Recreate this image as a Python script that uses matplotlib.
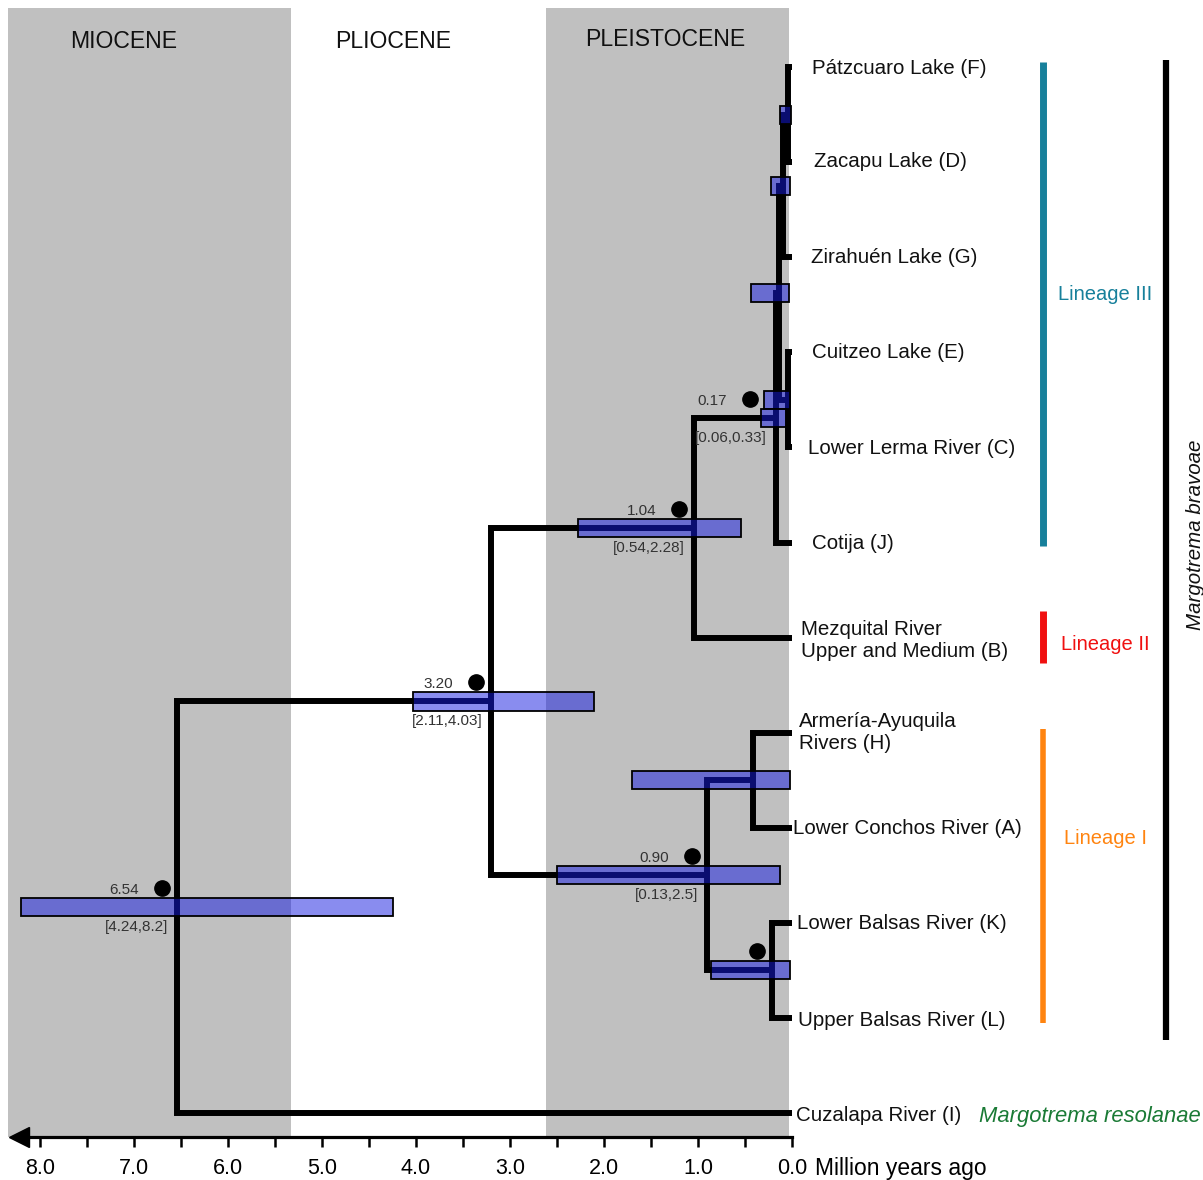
import matplotlib
matplotlib.use("Agg")
import matplotlib.pyplot as plt
from matplotlib.patches import Rectangle
from matplotlib.transforms import blended_transform_factory, offset_copy

plt.rcParams['font.family'] = ['Liberation Sans', 'DejaVu Sans']

# ---------------- data ----------------
tip_names = ["Pátzcuaro Lake (F)", "Zacapu Lake (D)", "Zirahuén Lake (G)", "Cuitzeo Lake (E)",
             "Lower Lerma River (C)", "Cotija (J)", "Mezquital River\nUpper and Medium (B)",
             "Armería-Ayuquila\nRivers (H)", "Lower Conchos River (A)", "Lower Balsas River (K)",
             "Upper Balsas River (L)", "Cuzalapa River (I)"]

node_names = ["FD", "FDG", "EC", "FDGEC", "n017", "n104", "HA", "KL", "n090", "n320", "root"]
node_children = [(0, 1), ("FD", 2), (3, 4), ("FDG", "EC"), ("FDGEC", 5), ("n017", 6),
                 (7, 8), (9, 10), ("HA", "KL"), ("n104", "n090"), ("n320", 11)]
node_ages = [0.04, 0.10, 0.04, 0.14, 0.17, 1.04, 0.41, 0.21, 0.90, 3.20, 6.54]
hpd_low = [0.01, 0.02, 0.02, 0.03, 0.06, 0.54, 0.02, 0.02, 0.13, 2.11, 4.24]
hpd_high = [0.13, 0.22, 0.30, 0.44, 0.33, 2.28, 1.70, 0.86, 2.5, 4.03, 8.2]
node_support = [False, False, False, False, True, True, False, True, True, True, True]
node_labelled = [False, False, False, False, True, True, False, False, True, True, True]

epoch_names = ["MIOCENE", "PLIOCENE", "PLEISTOCENE"]
epoch_start = [8.34, 5.33, 2.62]
epoch_end = [5.33, 2.62, 0.03]
epoch_shaded = [True, False, True]

lineage_names = ["Lineage III", "Lineage II", "Lineage I"]
lineage_colors = ["#17809b", "#f01010", "#ff8410"]

tick_values = [0, 1, 2, 3, 4, 5, 6, 7, 8]
minor_values = [0.5, 1.5, 2.5, 3.5, 4.5, 5.5, 6.5, 7.5]

# ---------------- layout ----------------
W, H = 1203, 1180
PX0, SCALE = 792.0, 94.0        # pixel of t=0, pixels per My
Y0, DY = 67.0, 95.1             # pixel of first tip, pixel spacing
AX_TOP, AX_BOT = 8.0, 1137.0


def t_of(px):
    return (PX0 - px) / SCALE


def i_of(py):
    return (py - Y0) / DY


fig = plt.figure(figsize=(W / 100, H / 100), dpi=100)
ax = fig.add_axes([0, (H - AX_BOT) / H, 1, (AX_BOT - AX_TOP) / H])
ax.set_xlim(t_of(0), t_of(W))
ax.set_ylim(i_of(AX_BOT), i_of(AX_TOP))

for s in ["top", "left", "right"]:
    ax.spines[s].set_visible(False)
ax.spines["bottom"].set_linewidth(2.3)
ax.spines["bottom"].set_bounds(0, 8.25)
ax.set_yticks([])
ax.set_xticks(tick_values)
ax.set_xticklabels([f"{v:.1f}" for v in tick_values])
ax.set_xticks(minor_values, minor=True)
ax.tick_params(axis="x", which="both", direction="out", length=7, width=1.8, pad=8)
for lab in ax.get_xticklabels():
    lab.set_fontsize(15.5)

bl = blended_transform_factory(ax.transData, ax.transAxes)
ax.plot([t_of(19)], [0], marker="<", ms=15, color="k", transform=bl, clip_on=False, zorder=5)
ax.annotate("Million years ago", (t_of(815), 0), xycoords=bl, xytext=(0, -31),
            textcoords="offset pixels", ha="left", va="center", fontsize=16.5,
            annotation_clip=False)

# epochs
epoch_label_x = [t_of(124), t_of(393), t_of(665)]
epoch_label_y = [i_of(42), i_of(42), i_of(40)]
for name, a, b, sh, lx, ly in zip(epoch_names, epoch_start, epoch_end, epoch_shaded,
                                   epoch_label_x, epoch_label_y):
    if sh:
        ax.axvspan(b, a, color="#c0c0c0", zorder=0, lw=0)
    ax.text(lx, ly, name, ha="center", va="center", fontsize=16.6, color="#111111")

# ---------------- tree ----------------
pos = {}
for i, n in enumerate(tip_names):
    pos[i] = (0.0, float(i))
for name, ch, age in zip(node_names, node_children, node_ages):
    ys = [pos[c][1] for c in ch]
    pos[name] = (age, sum(ys) / len(ys))

LW = 4.3
for name, ch, age in zip(node_names, node_children, node_ages):
    (a1, y1), (a2, y2) = pos[ch[0]], pos[ch[1]]
    ax.plot([a1, age, age, a2], [y1, y1, y2, y2], color="k", lw=LW,
            solid_joinstyle="miter", solid_capstyle="butt", zorder=2)

# HPD bars
BAR_H = 0.19
for name, lo, hi in zip(node_names, hpd_low, hpd_high):
    y = pos[name][1]
    ax.add_patch(Rectangle((lo, y - BAR_H / 2), hi - lo, BAR_H,
                           facecolor=(0.08, 0.10, 0.88, 0.5), edgecolor="k", lw=1.3, zorder=3))

# support dots and labels
label_shift = {"n017": -11}
for name, sup, labd, lo, hi in zip(node_names, node_support, node_labelled, hpd_low, hpd_high):
    age, y = pos[name]
    sh = label_shift.get(name, 0)
    if sup:
        tr = offset_copy(ax.transData, fig=fig, x=-15 + sh, y=19, units="dots")
        ax.plot([age], [y], "o", ms=11, color="k", transform=tr, zorder=4)
    if labd:
        ax.annotate(f"{age:.2f}", (age, y), xytext=(-38 + sh, 17), textcoords="offset pixels",
                    ha="right", va="center", fontsize=11, color="#333333", zorder=4)
        ax.annotate(f"[{lo:g},{hi:g}]", (age, y), xytext=(-9, -20), textcoords="offset pixels",
                    ha="right", va="center", fontsize=11, color="#333333", zorder=4)

# tip labels
tip_dx = [20, 22, 19, 20, 16, 20, 9, 7, 1, 5, 6, 4]
tip_dy = [-1, 1, 0, 0, -1, -1, -3, 0, -1, -1, -2, -2]
for i, (name, dx, dy) in enumerate(zip(tip_names, tip_dx, tip_dy)):
    ax.annotate(name, (0, i), xytext=(dx, dy), textcoords="offset pixels",
                ha="left", va="center", fontsize=14.8, linespacing=1.22, color="#111111")

# lineage brackets
lin_x = t_of(1043)
lin_spans = [(i_of(62), i_of(546)), (i_of(611), i_of(663)), (i_of(729), i_of(1023))]
lin_lw = [5.0, 5.0, 4.0]
lin_label_x = t_of(1105)
lin_label_y = [i_of(295), i_of(644), i_of(839)]
for name, col, (ya, yb), lw, ly in zip(lineage_names, lineage_colors, lin_spans, lin_lw, lin_label_y):
    ax.plot([lin_x, lin_x], [ya, yb], color=col, lw=lw, solid_capstyle="butt")
    ax.text(lin_label_x, ly, name, color=col, ha="center", va="center", fontsize=14.5)

sp_x = t_of(1166)
ax.plot([sp_x, sp_x], [i_of(60), i_of(1040)], color="k", lw=4.5, solid_capstyle="butt")
ax.text(t_of(1195), i_of(535), "Margotrema bravoae", rotation=90, ha="center", va="center",
        fontsize=14.8, style="italic", color="#111111")
ax.text(t_of(979), 11 + 0.04, "Margotrema resolanae", ha="left", va="center",
        fontsize=15.8, style="italic", color="#1a7a35")

fig.savefig("out.png", dpi=100)
